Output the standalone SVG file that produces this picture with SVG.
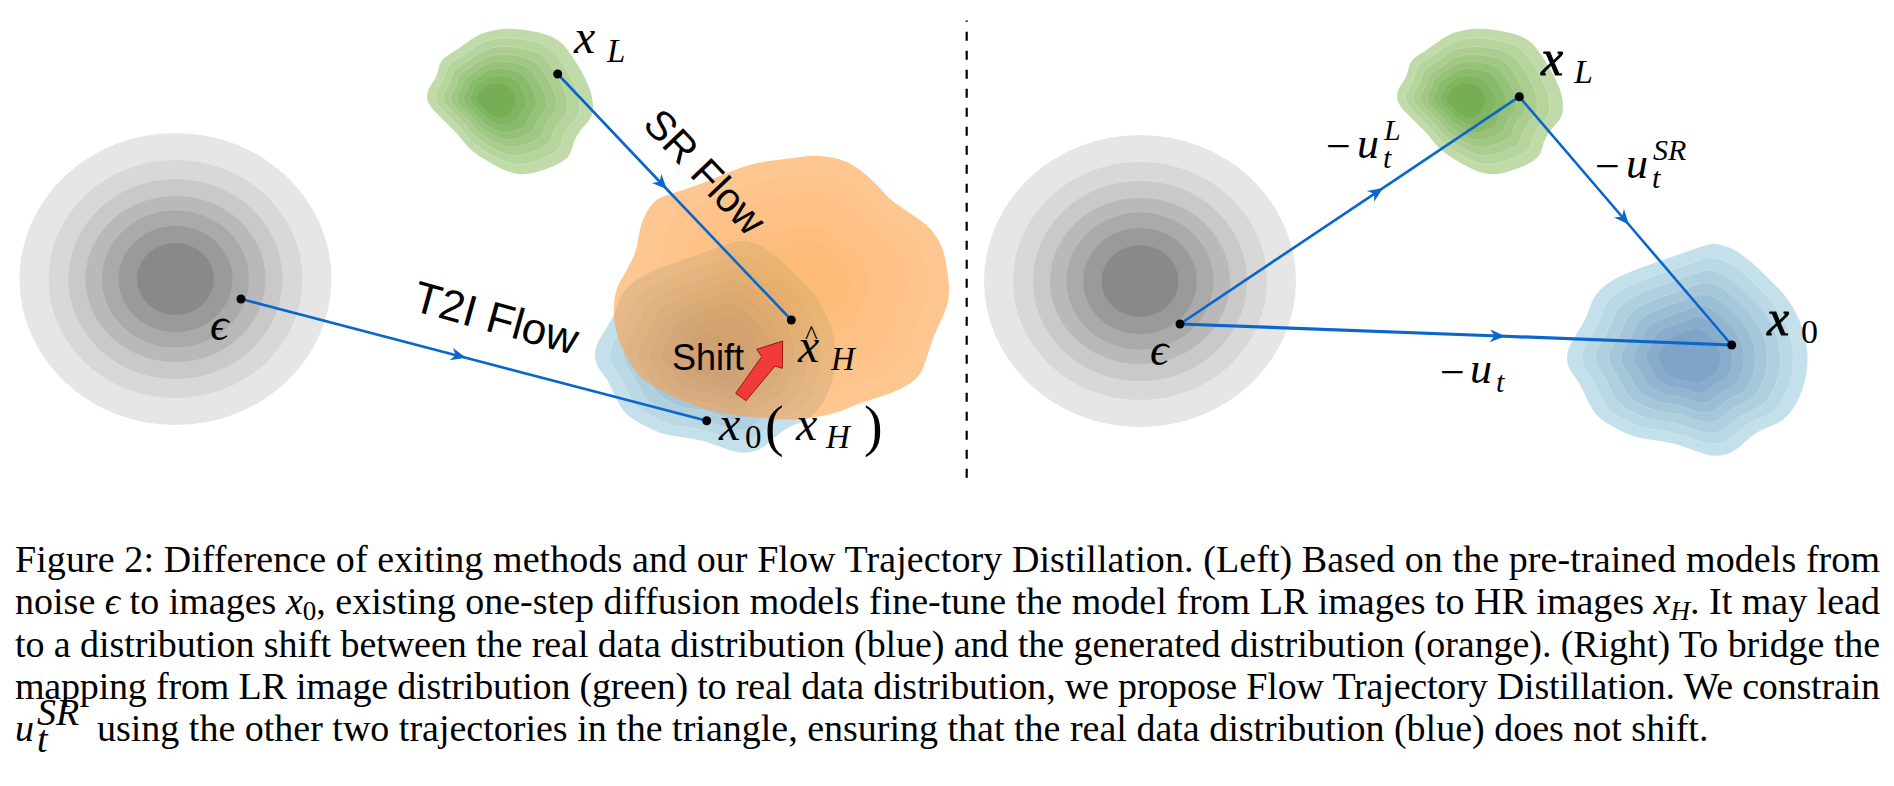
<svg xmlns="http://www.w3.org/2000/svg" width="1894" height="786" viewBox="0 0 1894 786">
<style>
.mi{font-family:"Liberation Serif","DejaVu Serif",serif;font-style:italic;fill:#000}
.rm{font-family:"Liberation Serif","DejaVu Serif",serif;fill:#000}
.sans{font-family:"Liberation Sans",Arial,sans-serif;fill:#000}
.flow{fill:none;stroke:#0b66cc;stroke-width:2.6;marker-mid:url(#arr)}
.cap{font-family:"Liberation Serif","Times New Roman",serif;font-size:38px;fill:#000}
.dot{fill:#000}
.ring{stroke:#ffffff;stroke-opacity:0.25;stroke-width:1}
</style>
<defs>
<marker id="arr" markerUnits="userSpaceOnUse" viewBox="-10 -8 18 16" markerWidth="18" markerHeight="16" refX="0" refY="0" orient="auto">
<path d="M 6,0 L -9,-6.5 L -4.5,0 L -9,6.5 Z" fill="#0b66cc"/>
</marker>
<path id="gblob" d="M 25,-70 Q 40,-68 50,-64 Q 60,-60 66.5,-51.5 Q 73,-43 79,-33 Q 85,-23 89,-13 Q 93,-3 93,7 Q 93,17 86.5,23.5 Q 80,30 76.5,36.5 Q 73,43 71.5,50 Q 70,57 61.5,62 Q 53,67 40,71 Q 27,75 18.5,74 Q 10,73 0,68 Q -10,63 -20,56.5 Q -30,50 -36.5,41.5 Q -43,33 -51.5,25 Q -60,17 -66.5,10 Q -73,3 -73,-3.5 Q -73,-10 -68,-16.5 Q -63,-23 -61.5,-31.5 Q -60,-40 -51.5,-45 Q -43,-50 -33,-57.5 Q -23,-65 -15,-67.5 Q -7,-70 1.5,-71 Q 10,-72 25,-70 Z"/>
<path id="bblob" d="M 33,-104.5 Q 43,-102 53,-94.5 Q 63,-87 71.5,-78.5 Q 80,-70 88.5,-61.5 Q 97,-53 103.5,-41.5 Q 110,-30 113.5,-18.5 Q 117,-7 117.5,5 Q 118,17 115.5,28.5 Q 113,40 108,50 Q 103,60 96.5,66.5 Q 90,73 80,76.5 Q 70,80 63.5,85 Q 57,90 50,96.5 Q 43,103 33,105 Q 23,107 13,103.5 Q 3,100 -7,96.5 Q -17,93 -27,91.5 Q -37,90 -47,88.5 Q -57,87 -67,82 Q -77,77 -85,72 Q -93,67 -98,58.5 Q -103,50 -106.5,41.5 Q -110,33 -116.5,25 Q -123,17 -123,8.5 Q -123,0 -118,-8.5 Q -113,-17 -108,-25 Q -103,-33 -100,-43 Q -97,-53 -90,-60 Q -83,-67 -73,-72 Q -63,-77 -55,-80 Q -47,-83 -37,-86.5 Q -27,-90 -17,-93.5 Q -7,-97 1.5,-100 Q 10,-103 16.5,-105 Q 23,-107 33,-104.5 Z"/>
<path id="oblob" d="M 52,-132.5 Q 67,-130 80,-120 Q 93,-110 101.5,-100 Q 110,-90 120,-83.5 Q 130,-77 140,-70 Q 150,-63 156.5,-53 Q 163,-43 165.5,-30 Q 168,-17 169,-5 Q 170,7 166.5,17 Q 163,27 158,37 Q 153,47 150,57 Q 147,67 143.5,77 Q 140,87 130,93.5 Q 120,100 110,103.5 Q 100,107 90,110 Q 80,113 68.5,118 Q 57,123 45,125.5 Q 33,128 20,129 Q 7,130 -6.5,129 Q -20,128 -33.5,126.5 Q -47,125 -60,122.5 Q -73,120 -86.5,115 Q -100,110 -110,105 Q -120,100 -130,94 Q -140,88 -146,79 Q -152,70 -157,60 Q -162,50 -164.5,38.5 Q -167,27 -166,13.5 Q -165,0 -159,-10 Q -153,-20 -148,-30 Q -143,-40 -141.5,-52.5 Q -140,-65 -133.5,-77.5 Q -127,-90 -117,-93.5 Q -107,-97 -97,-100 Q -87,-103 -70,-110 Q -53,-117 -40,-122 Q -27,-127 -15,-128.5 Q -3,-130 8.5,-131.5 Q 20,-133 28.5,-134 Q 37,-135 52,-132.5 Z"/>
<g id="gauss">
<ellipse rx="156" ry="146" fill="#e6e6e6"/>
<ellipse rx="127" ry="119" fill="#d8d8d8"/>
<ellipse rx="107" ry="100" fill="#c9c9c9"/>
<ellipse rx="90" ry="83" fill="#b9b9b9"/>
<ellipse rx="73.5" ry="68.5" fill="#aaaaaa"/>
<ellipse rx="57" ry="53" fill="#9a9a9a"/>
<ellipse rx="38.5" ry="36" fill="#898989"/>
</g>
<g id="green">
<use href="#gblob" fill="#c0dba9"/>
<use href="#gblob" class="ring" fill="#b6d59d" transform="translate(-8,0) scale(0.87) translate(8,0)"/>
<use href="#gblob" class="ring" fill="#abce90" transform="translate(-8,0) scale(0.75) translate(8,0)"/>
<use href="#gblob" class="ring" fill="#a0c884" transform="translate(-8,0) scale(0.64) translate(8,0)"/>
<use href="#gblob" class="ring" fill="#95c178" transform="translate(-8,0) scale(0.54) translate(8,0)"/>
<use href="#gblob" class="ring" fill="#8abb6c" transform="translate(-8,0) scale(0.44) translate(8,0)"/>
<use href="#gblob" class="ring" fill="#80b561" transform="translate(-8,0) scale(0.34) translate(8,0)"/>
<use href="#gblob" class="ring" fill="#76ae55" transform="translate(-8,0) scale(0.24) translate(8,0)"/>
</g>
<g id="blue">
<use href="#bblob" fill="#c4e0ea"/>
<use href="#bblob" class="ring" fill="#bad8e5" transform="translate(0,8) scale(0.88) translate(0,-8)"/>
<use href="#bblob" class="ring" fill="#b0d0e0" transform="translate(0,8) scale(0.77) translate(0,-8)"/>
<use href="#bblob" class="ring" fill="#a6c7da" transform="translate(0,8) scale(0.66) translate(0,-8)"/>
<use href="#bblob" class="ring" fill="#9cbed5" transform="translate(0,8) scale(0.56) translate(0,-8)"/>
<use href="#bblob" class="ring" fill="#92b5d0" transform="translate(0,8) scale(0.46) translate(0,-8)"/>
<use href="#bblob" class="ring" fill="#88accb" transform="translate(0,8) scale(0.36) translate(0,-8)"/>
<use href="#bblob" class="ring" fill="#7fa4c7" transform="translate(0,8) scale(0.26) translate(0,-8)"/>
</g>
</defs>

<rect width="1894" height="786" fill="#ffffff"/>

<!-- LEFT PANEL -->
<g id="noise-left"><use href="#gauss" transform="translate(175.5,279)"/></g>
<g id="lr-left"><use href="#green" transform="translate(500,100)"/></g>
<g id="real-left"><use href="#blue" transform="translate(718,347)"/></g>
<g id="generated-left">
<use href="#oblob" transform="translate(780,290)" fill="#fda046" fill-opacity="0.6"/>
<g fill="#fb9838" fill-opacity="0.045">
<use href="#oblob" transform="translate(807,280) scale(0.85) translate(-27,10)"/>
<use href="#oblob" transform="translate(807,280) scale(0.7) translate(-27,10)"/>
<use href="#oblob" transform="translate(807,280) scale(0.56) translate(-27,10)"/>
<use href="#oblob" transform="translate(807,280) scale(0.43) translate(-27,10)"/>
<use href="#oblob" transform="translate(807,280) scale(0.31) translate(-27,10)"/>
<use href="#oblob" transform="translate(807,280) scale(0.2) translate(-27,10)"/>
</g>
</g>

<!-- RIGHT PANEL -->
<g id="noise-right"><use href="#gauss" transform="translate(1140,281)"/></g>
<g id="lr-right"><use href="#green" transform="translate(1470,100)"/></g>
<g id="real-right"><use href="#blue" transform="translate(1690,350)"/></g>

<g id="divider">
<line x1="966.7" y1="20.5" x2="966.7" y2="478" stroke="#000" stroke-width="2.2" stroke-dasharray="9 10" stroke-dashoffset="7.8"/>
</g>

<g id="connectors">
<path class="flow" d="M241,299 L460,356.3 L706.7,420.7"/>
<path class="flow" d="M557.7,74 L662.8,185 L791.3,320"/>
<path class="flow" d="M1180,324 L1378,191.3 L1519.3,96.7"/>
<path class="flow" d="M1519.3,96.7 L1624.9,220 L1731.7,345"/>
<path class="flow" style="stroke-width:3.2" d="M1180,324 L1499,336 L1731.7,345"/>
</g>

<g id="shift-arrow">
<polygon points="782.7,341 756.7,349.3 761.7,356.7 735.7,393.3 746,400.7 775,366 782.3,368.3" fill="#f23a3a" stroke="#9a1515" stroke-width="1"/>
</g>

<g id="points">
<circle class="dot" cx="241" cy="299" r="4.5"/>
<circle class="dot" cx="557.7" cy="74" r="4.5"/>
<circle class="dot" cx="791.3" cy="320" r="4.5"/>
<circle class="dot" cx="706.7" cy="420.7" r="4.5"/>
<circle class="dot" cx="1180" cy="324" r="4.5"/>
<circle class="dot" cx="1519.3" cy="96.7" r="4.5"/>
<circle class="dot" cx="1731.7" cy="345" r="4.5"/>
</g>

<g id="labels-left">
<text class="mi" x="210" y="340" font-size="46">ϵ</text>
<text class="mi" x="574" y="53" font-size="48">x</text>
<text class="mi" x="607" y="62" font-size="33">L</text>
<text class="sans" font-size="41" text-anchor="middle" transform="translate(705,172) rotate(46.5)" x="0" y="14">SR Flow</text>
<text class="sans" font-size="44" text-anchor="middle" transform="translate(496,318) rotate(15.5)" x="0" y="15">T2I Flow</text>
<text class="sans" x="672" y="370" font-size="36">Shift</text>
<text class="mi" x="798" y="362" font-size="48">x</text>
<text class="rm" x="805" y="344" font-size="27">^</text>
<text class="mi" x="831" y="370" font-size="33">H</text>
<text class="mi" x="719" y="440" font-size="48">x</text>
<text class="rm" x="745" y="448" font-size="33">0</text>
<text class="rm" x="765" y="445" font-size="56">(</text>
<text class="mi" x="796" y="440" font-size="48">x</text>
<text class="mi" x="826" y="448" font-size="33">H</text>
<text class="rm" x="864" y="445" font-size="56">)</text>
</g>

<g id="labels-right">
<text class="mi" x="1150" y="365" font-size="46">ϵ</text>
<text class="mi" x="1541" y="75" font-size="50" stroke="#000" stroke-width="0.8">x</text>
<text class="mi" x="1574" y="83" font-size="34">L</text>
<text class="mi" x="1767" y="335" font-size="50" stroke="#000" stroke-width="0.8">x</text>
<text class="rm" x="1801" y="343" font-size="34">0</text>
<text class="rm" x="1326" y="161" font-size="44">−</text>
<text class="mi" x="1357" y="158" font-size="44">u</text>
<text class="mi" x="1383" y="168" font-size="30">t</text>
<text class="mi" x="1384" y="140" font-size="30">L</text>
<text class="rm" x="1595" y="181" font-size="44">−</text>
<text class="mi" x="1626" y="178" font-size="44">u</text>
<text class="mi" x="1652" y="188" font-size="30">t</text>
<text class="mi" x="1653" y="160" font-size="30">SR</text>
<text class="rm" x="1440" y="387" font-size="44">−</text>
<text class="mi" x="1470" y="383" font-size="44">u</text>
<text class="mi" x="1496" y="392" font-size="30">t</text>
</g>

<g id="caption">
<text class="cap" x="15" y="572" textLength="1865" lengthAdjust="spacing">Figure 2: Difference of exiting methods and our Flow Trajectory Distillation. (Left) Based on the pre-trained models from</text>
<text class="cap" x="15" y="614.3" textLength="1865" lengthAdjust="spacing">noise <tspan font-style="italic">ϵ</tspan> to images <tspan font-style="italic">x</tspan><tspan font-size="27" dy="6">0</tspan><tspan dy="-6">, existing one-step diffusion models fine-tune the model from LR images to HR images </tspan><tspan font-style="italic">x</tspan><tspan font-style="italic" font-size="27" dy="6">H</tspan><tspan dy="-6">. It may lead</tspan></text>
<text class="cap" x="15" y="656.6" textLength="1865" lengthAdjust="spacing">to a distribution shift between the real data distribution (blue) and the generated distribution (orange). (Right) To bridge the</text>
<text class="cap" x="15" y="698.9" textLength="1865" lengthAdjust="spacing">mapping from LR image distribution (green) to real data distribution, we propose Flow Trajectory Distillation. We constrain</text>
<text class="cap" x="15" y="741.2" font-style="italic">u</text>
<text class="cap" x="37" y="725" font-size="26" font-style="italic">SR</text>
<text class="cap" x="37" y="752" font-size="26" font-style="italic">t</text>
<text class="cap" x="97" y="741.2">using the other two trajectories in the triangle, ensuring that the real data distribution (blue) does not shift.</text>
</g>
</svg>
